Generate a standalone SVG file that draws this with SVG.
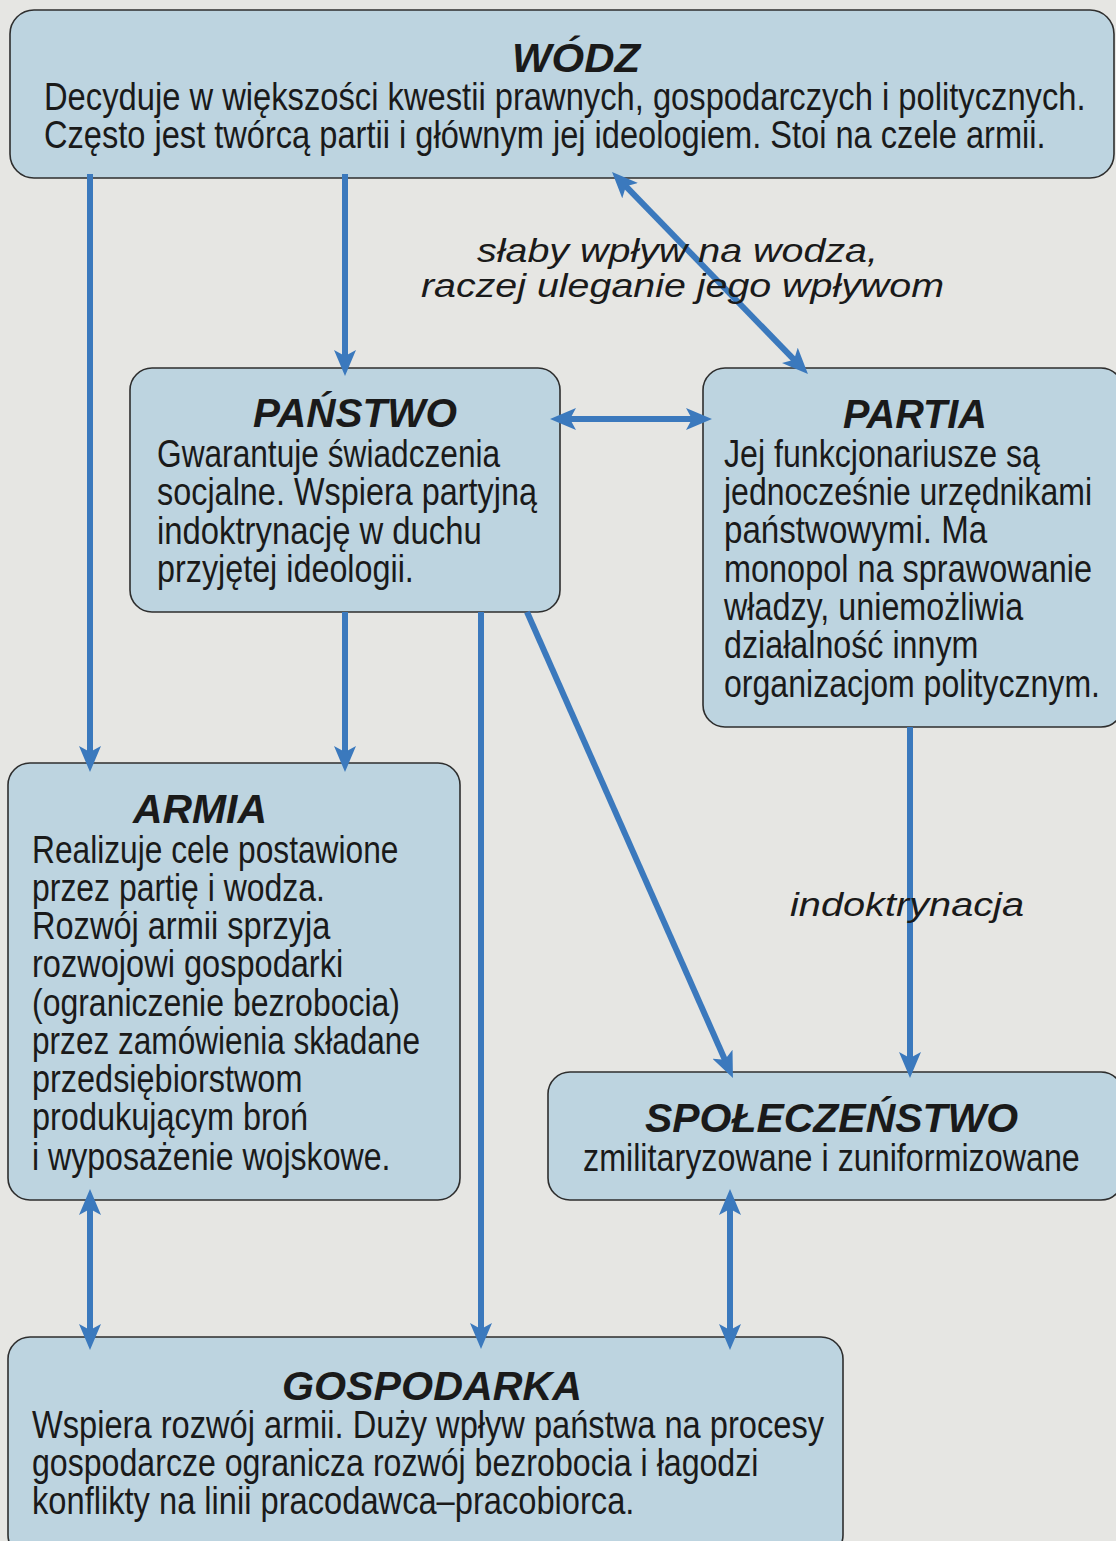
<svg xmlns="http://www.w3.org/2000/svg" width="1116" height="1541" viewBox="0 0 1116 1541">
<defs>
<style>
.box{fill:#bdd4e0;stroke:#2e2e2e;stroke-width:1.6}
.t{font-family:"Liberation Sans",Arial,sans-serif;font-weight:bold;font-style:italic;font-size:40px;fill:#1a1a1a}
.b{font-family:"Liberation Sans",Arial,sans-serif;font-size:38px;fill:#1a1a1a}
.l{font-family:"Liberation Sans",Arial,sans-serif;font-style:italic;font-size:33px;fill:#1a1a1a}
.c{stroke:#3b79bd;stroke-width:6;fill:none}
</style>
<marker id="ah" markerUnits="userSpaceOnUse" viewBox="0 0 26 22" refX="14" refY="11" markerWidth="26" markerHeight="22" orient="auto-start-reverse">
<path d="M26,11 L0,0 L6,11 L0,22 Z" fill="#3b79bd"/>
</marker>
</defs>
<rect x="0" y="0" width="1116" height="1541" fill="#e6e6e3"/>

<g id="wodz">
<rect class="box" x="10" y="10" width="1104" height="168" rx="24"/>
<text class="t" x="576" y="72" text-anchor="middle" textLength="128" lengthAdjust="spacingAndGlyphs">WÓDZ</text>
<text class="b" transform="translate(44,110) scale(0.8,1)" textLength="1302" lengthAdjust="spacingAndGlyphs">Decyduje w większości kwestii prawnych, gospodarczych i politycznych.</text>
<text class="b" transform="translate(44,148) scale(0.8,1)" textLength="1252" lengthAdjust="spacingAndGlyphs">Często jest twórcą partii i głównym jej ideologiem. Stoi na czele armii.</text>
</g>

<g id="panstwo">
<rect class="box" x="130" y="368" width="430" height="244" rx="22"/>
<text class="t" x="253" y="427" textLength="204" lengthAdjust="spacingAndGlyphs">PAŃSTWO</text>
<text class="b" transform="translate(157,467) scale(0.8,1)" textLength="429" lengthAdjust="spacingAndGlyphs">Gwarantuje świadczenia</text>
<text class="b" transform="translate(157,505) scale(0.8,1)" textLength="475" lengthAdjust="spacingAndGlyphs">socjalne. Wspiera partyjną</text>
<text class="b" transform="translate(157,544) scale(0.8,1)" textLength="406" lengthAdjust="spacingAndGlyphs">indoktrynację w duchu</text>
<text class="b" transform="translate(157,582) scale(0.8,1)" textLength="321" lengthAdjust="spacingAndGlyphs">przyjętej ideologii.</text>
</g>

<g id="partia">
<rect class="box" x="703" y="368" width="420" height="359" rx="22"/>
<text class="t" x="843" y="428" textLength="144" lengthAdjust="spacingAndGlyphs">PARTIA</text>
<text class="b" transform="translate(724,467) scale(0.8,1)" textLength="395" lengthAdjust="spacingAndGlyphs">Jej funkcjonariusze są</text>
<text class="b" transform="translate(724,505) scale(0.8,1)" textLength="460" lengthAdjust="spacingAndGlyphs">jednocześnie urzędnikami</text>
<text class="b" transform="translate(724,543) scale(0.8,1)" textLength="329" lengthAdjust="spacingAndGlyphs">państwowymi. Ma</text>
<text class="b" transform="translate(724,582) scale(0.8,1)" textLength="460" lengthAdjust="spacingAndGlyphs">monopol na sprawowanie</text>
<text class="b" transform="translate(724,620) scale(0.8,1)" textLength="374" lengthAdjust="spacingAndGlyphs">władzy, uniemożliwia</text>
<text class="b" transform="translate(724,658) scale(0.8,1)" textLength="318" lengthAdjust="spacingAndGlyphs">działalność innym</text>
<text class="b" transform="translate(724,697) scale(0.8,1)" textLength="470" lengthAdjust="spacingAndGlyphs">organizacjom politycznym.</text>
</g>

<g id="armia">
<rect class="box" x="8" y="763" width="452" height="437" rx="22"/>
<text class="t" x="133" y="823" textLength="134" lengthAdjust="spacingAndGlyphs">ARMIA</text>
<text class="b" transform="translate(32,863) scale(0.8,1)" textLength="458" lengthAdjust="spacingAndGlyphs">Realizuje cele postawione</text>
<text class="b" transform="translate(32,901) scale(0.8,1)" textLength="366" lengthAdjust="spacingAndGlyphs">przez partię i wodza.</text>
<text class="b" transform="translate(32,939) scale(0.8,1)" textLength="373" lengthAdjust="spacingAndGlyphs">Rozwój armii sprzyja</text>
<text class="b" transform="translate(32,977) scale(0.8,1)" textLength="389" lengthAdjust="spacingAndGlyphs">rozwojowi gospodarki</text>
<text class="b" transform="translate(32,1016) scale(0.8,1)" textLength="460" lengthAdjust="spacingAndGlyphs">(ograniczenie bezrobocia)</text>
<text class="b" transform="translate(32,1054) scale(0.8,1)" textLength="485" lengthAdjust="spacingAndGlyphs">przez zamówienia składane</text>
<text class="b" transform="translate(32,1092) scale(0.8,1)" textLength="338" lengthAdjust="spacingAndGlyphs">przedsiębiorstwom</text>
<text class="b" transform="translate(32,1130) scale(0.8,1)" textLength="345" lengthAdjust="spacingAndGlyphs">produkującym broń</text>
<text class="b" transform="translate(32,1170) scale(0.8,1)" textLength="448" lengthAdjust="spacingAndGlyphs">i wyposażenie wojskowe.</text>
</g>

<g id="spoleczenstwo">
<rect class="box" x="548" y="1072" width="575" height="128" rx="22"/>
<text class="t" x="645" y="1132" textLength="373" lengthAdjust="spacingAndGlyphs">SPOŁECZEŃSTWO</text>
<text class="b" transform="translate(583,1171) scale(0.8,1)" textLength="621" lengthAdjust="spacingAndGlyphs">zmilitaryzowane i zuniformizowane</text>
</g>

<g id="gospodarka">
<rect class="box" x="8" y="1337" width="835" height="220" rx="22"/>
<text class="t" x="282" y="1400" textLength="300" lengthAdjust="spacingAndGlyphs">GOSPODARKA</text>
<text class="b" transform="translate(32,1438) scale(0.8,1)" textLength="990" lengthAdjust="spacingAndGlyphs">Wspiera rozwój armii. Duży wpływ państwa na procesy</text>
<text class="b" transform="translate(32,1476) scale(0.8,1)" textLength="908" lengthAdjust="spacingAndGlyphs">gospodarcze ogranicza rozwój bezrobocia i łagodzi</text>
<text class="b" transform="translate(32,1514) scale(0.8,1)" textLength="753" lengthAdjust="spacingAndGlyphs">konflikty na linii pracodawca–pracobiorca.</text>
</g>

<g id="connectors">
<line class="c" x1="90" y1="174" x2="90" y2="760" marker-end="url(#ah)"/>
<line class="c" x1="345" y1="174" x2="345" y2="364" marker-end="url(#ah)"/>
<line class="c" x1="620.4" y1="180.6" x2="799.6" y2="365.4" marker-start="url(#ah)" marker-end="url(#ah)"/>
<line class="c" x1="562" y1="419" x2="700" y2="419" marker-start="url(#ah)" marker-end="url(#ah)"/>
<line class="c" x1="345" y1="612" x2="345" y2="760" marker-end="url(#ah)"/>
<line class="c" x1="481" y1="612" x2="481" y2="1337" marker-end="url(#ah)"/>
<line class="c" x1="527" y1="612" x2="728.1" y2="1067" marker-end="url(#ah)"/>
<line class="c" x1="910" y1="727" x2="910" y2="1066" marker-end="url(#ah)"/>
<line class="c" x1="90" y1="1201" x2="90" y2="1338" marker-start="url(#ah)" marker-end="url(#ah)"/>
<line class="c" x1="730" y1="1201" x2="730" y2="1338" marker-start="url(#ah)" marker-end="url(#ah)"/>
<text class="l" x="477" y="262" textLength="401" lengthAdjust="spacingAndGlyphs">słaby wpływ na wodza,</text>
<text class="l" x="421" y="297" textLength="523" lengthAdjust="spacingAndGlyphs">raczej uleganie jego wpływom</text>
<text class="l" x="790" y="916" textLength="234" lengthAdjust="spacingAndGlyphs">indoktrynacja</text>
</g>
</svg>
